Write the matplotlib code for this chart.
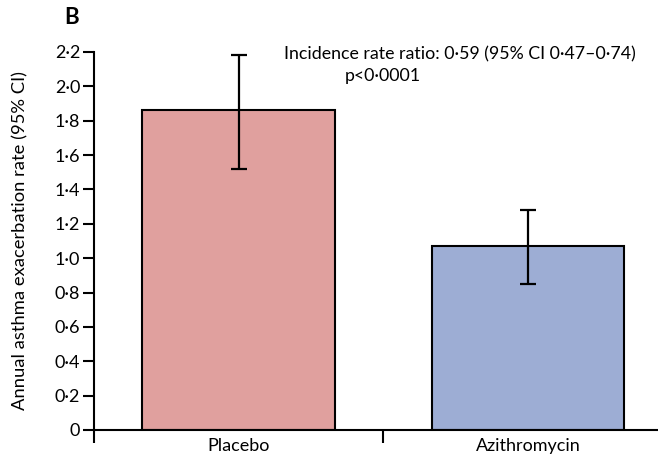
import matplotlib.pyplot as plt
from matplotlib.ticker import FixedLocator, FuncFormatter

# Data
groups = ["Placebo", "Azithromycin"]
rates = [1.86, 1.07]
ci_low = [1.52, 0.85]
ci_high = [2.18, 1.28]
colors = ["#e0a09e", "#9dadd4"]

plt.rcParams['font.family'] = ['Lato', 'DejaVu Sans']

fig = plt.figure(figsize=(6.58, 4.62), dpi=100)
ax = fig.add_axes([94 / 658, 32 / 462, 1 - 94 / 658, 378 / 462])

x = list(range(len(groups)))
yerr = [[r - lo for r, lo in zip(rates, ci_low)],
        [hi - r for r, hi in zip(rates, ci_high)]]

ax.bar(x, rates, width=0.665, color=colors, edgecolor="black", linewidth=1.5, zorder=2)
ax.errorbar(x, rates, yerr=yerr, fmt="none", ecolor="black", elinewidth=1.6,
            capsize=5.5, capthick=1.6, zorder=3)

ax.set_xlim(-0.5, 1.45)
ax.set_ylim(0, 2.2)

# y axis ticks with mid-dot decimals
yticks = [i * 0.2 for i in range(12)]
ax.set_yticks(yticks)
ax.yaxis.set_major_formatter(FuncFormatter(
    lambda v, p: "0" if abs(v) < 1e-9 else f"{v:.1f}".replace(".", "·")))
ax.tick_params(axis="y", direction="out", length=8, width=1.5, labelsize=13, pad=2)

# x axis: separator ticks between groups, labels without tick marks
ax.xaxis.set_major_locator(FixedLocator([-0.5, 0.5, 1.5]))
ax.xaxis.set_major_formatter(FuncFormatter(lambda v, p: ""))
ax.xaxis.set_minor_locator(FixedLocator(x))
ax.set_xticklabels(groups, minor=True)
ax.tick_params(axis="x", which="major", direction="out", length=9, width=1.5)
ax.tick_params(axis="x", which="minor", length=0, labelsize=13, pad=6)

for side in ["top", "right"]:
    ax.spines[side].set_visible(False)
for side in ["left", "bottom"]:
    ax.spines[side].set_linewidth(1.5)

ax.set_ylabel("Annual asthma exacerbation rate (95% CI)", fontsize=13.2)
ax.yaxis.set_label_coords(-66 / 564, 0.5)

fig.text(284 / 658, 1 - 54 / 462, "Incidence rate ratio: 0·59 (95% CI 0·47–0·74)",
         fontsize=12.8, ha="left", va="center")
fig.text(345 / 658, 1 - 76 / 462, "p<0·0001", fontsize=12.8, ha="left", va="center")
fig.text(64 / 658, 1 - 18 / 462, "B", fontsize=16, fontweight="bold", ha="left", va="center")

fig.savefig("out.png", dpi=100)
